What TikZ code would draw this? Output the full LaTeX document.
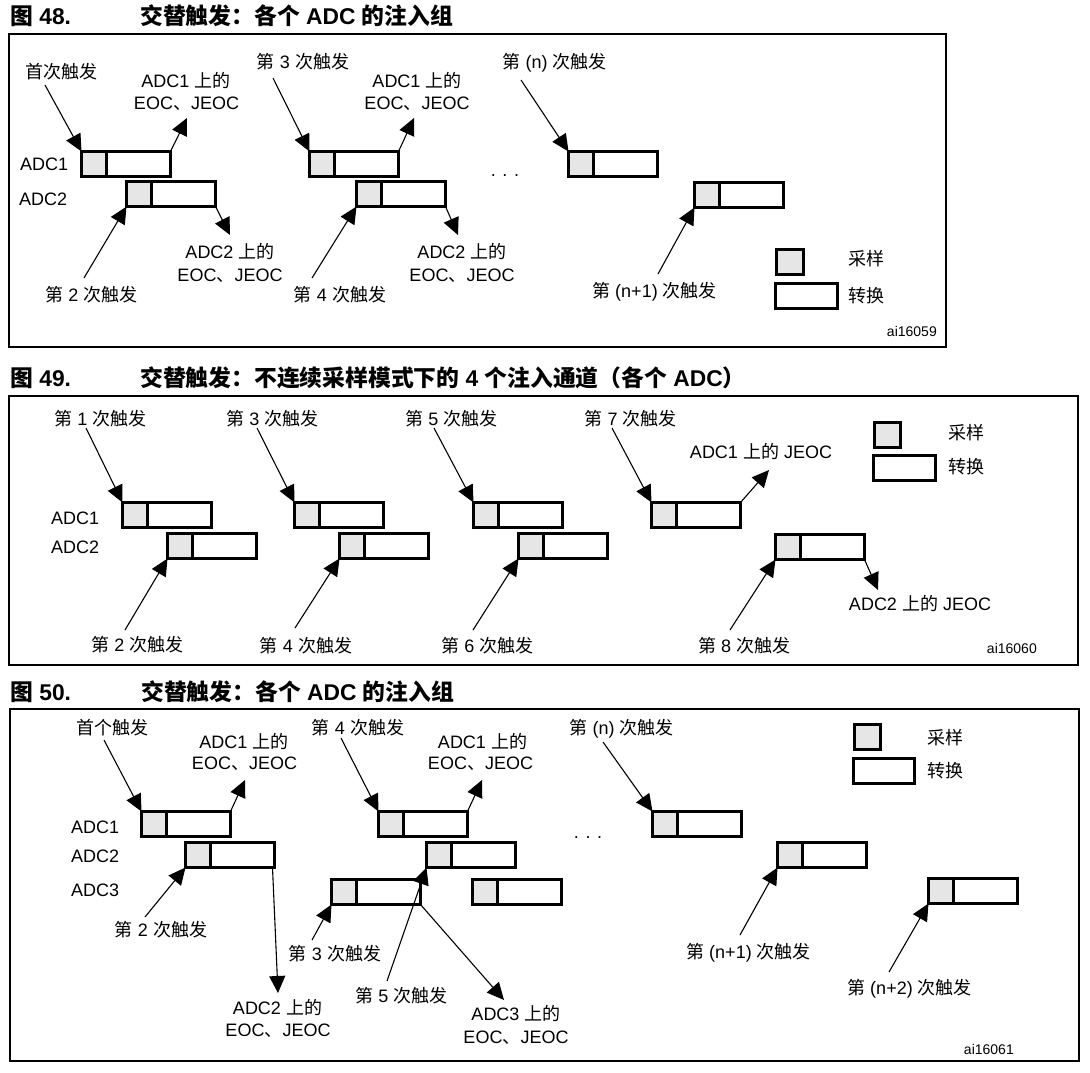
\documentclass[tikz,border=0pt]{standalone}
\usepackage{fontspec}
\setmainfont{Liberation Sans}
\newfontfamily\cjk{Noto Sans CJK SC}
\usetikzlibrary{arrows.meta}
\definecolor{smp}{RGB}{230,230,230}
\newcommand\zh[1]{{\cjk #1}}
\newcommand\adcbox[3]{%
  \node[samp] (#1s) at (#2,#3) {};
  \node[conv] (#1c) at (#1s.east) {};}
\begin{document}
\begin{tikzpicture}[x=1pt,y=-1pt,
  lbl/.style={inner sep=0pt, text height=13pt, text depth=0pt, font=\fontsize{18}{22}\selectfont},
  ttl/.style={inner sep=0pt, text height=16pt, text depth=0pt, anchor=west, font=\fontsize{22.8}{27}\selectfont\bfseries},
  tag/.style={inner sep=0pt, text height=10pt, text depth=0pt, anchor=east, font=\fontsize{14}{17}\selectfont},
  frm/.style={draw, line width=2pt},
  arr/.style={line width=1.1pt, -{Triangle[length=17pt,width=16pt]}},
  samp/.style={draw, line width=3pt, fill=smp, minimum width=25pt, minimum height=25pt, inner sep=0pt, outer sep=0pt, anchor=north west},
  conv/.style={draw, line width=3pt, fill=white, minimum width=64pt, minimum height=25pt, inner sep=0pt, outer sep=0pt, anchor=west}]
\useasboundingbox (0,0) rectangle (1090,1073);

% ================= Figure 48 =================
\node[ttl] (A-t0) at (10,17) {\zh{图} 48.};
\node[ttl] (A-t1) at (140,17) {\zh{交替触发：各个} ADC \zh{的注入组}};
\draw[frm] (9,34) rectangle (946,347);
\node[lbl, anchor=west] (A-l1) at (20,164) {ADC1};
\node[lbl, anchor=west] (A-l2) at (19,199) {ADC2};
\adcbox{A1}{81.5}{151.5}
\adcbox{A2}{126.5}{181.5}
\adcbox{A3}{309.5}{151.5}
\adcbox{A4}{356.5}{181.5}
\adcbox{A5}{568.5}{151.5}
\adcbox{A6}{694.5}{182.5}
\node[lbl] (A-tr1) at (61.5,72) {\zh{首次触发}};
\node[lbl] (A-e1a) at (186,81) {ADC1 \zh{上的}};
\node[lbl] (A-e1b) at (186.5,103) {EOC\zh{、}JEOC};
\node[lbl] (A-tr2) at (91.5,295) {\zh{第} 2 \zh{次触发}};
\node[lbl] (A-e2a) at (230,252) {ADC2 \zh{上的}};
\node[lbl] (A-e2b) at (230,275) {EOC\zh{、}JEOC};
\node[lbl] (A-tr3) at (303,62) {\zh{第} 3 \zh{次触发}};
\node[lbl] (A-e3a) at (417,81) {ADC1 \zh{上的}};
\node[lbl] (A-e3b) at (417,103) {EOC\zh{、}JEOC};
\node[lbl] (A-tr4) at (340,295) {\zh{第} 4 \zh{次触发}};
\node[lbl] (A-e4a) at (462,252) {ADC2 \zh{上的}};
\node[lbl] (A-e4b) at (462,275) {EOC\zh{、}JEOC};
\node[lbl] (A-dots) at (505,169.5) {. . .};
\node[lbl] (A-trn) at (554.5,62) {\zh{第} (n) \zh{次触发}};
\node[lbl] (A-trn1) at (654.5,291) {\zh{第} (n+1) \zh{次触发}};
\node[samp, minimum width=27pt] (A-legs) at (776.5,249.5) {};
\node[conv, anchor=north west, minimum width=62pt] (A-legc) at (775.5,283.5) {};
\node[lbl, anchor=west] (A-legst) at (848,259) {\zh{采样}};
\node[lbl, anchor=west] (A-legct) at (848,296) {\zh{转换}};
\node[tag] (A-id) at (937,331) {ai16059};
\coordinate (A-p1) at (45,85);   \draw[arr] (A-p1) -- (A1s.north west);
\coordinate (A-q1) at (187,118); \draw[arr] (A1c.north east) -- (A-q1);
\coordinate (A-p2) at (84,278);  \draw[arr] (A-p2) -- (A2s.south west);
\coordinate (A-q2) at (230,235); \draw[arr] (A2c.south east) -- (A-q2);
\coordinate (A-p3) at (273,78);  \draw[arr] (A-p3) -- (A3s.north west);
\coordinate (A-q3) at (414,118); \draw[arr] (A3c.north east) -- (A-q3);
\coordinate (A-p4) at (312,278); \draw[arr] (A-p4) -- (A4s.south west);
\coordinate (A-q4) at (458,235); \draw[arr] (A4c.south east) -- (A-q4);
\coordinate (A-p5) at (521,80);  \draw[arr] (A-p5) -- (A5s.north west);
\coordinate (A-p6) at (658,274); \draw[arr] (A-p6) -- (A6s.south west);

% ================= Figure 49 =================
\node[ttl] (B-t0) at (10,378) {\zh{图} 49.};
\node[ttl] (B-t1) at (140,378) {\zh{交替触发：不连续采样模式下的} 4 \zh{个注入通道（各个} ADC\zh{）}};
\draw[frm] (9,396) rectangle (1078,665);
\node[lbl, anchor=west] (B-l1) at (51,518) {ADC1};
\node[lbl, anchor=west] (B-l2) at (51,547) {ADC2};
\adcbox{B1}{122.5}{502.5}
\adcbox{B2}{167.5}{533.5}
\adcbox{B3}{294.5}{502.5}
\adcbox{B4}{339.5}{533.5}
\adcbox{B5}{473.5}{502.5}
\adcbox{B6}{518.5}{533.5}
\adcbox{B7}{651.5}{502.5}
\adcbox{B8}{775.5}{534.5}
\node[lbl] (B-tr1) at (100.5,419) {\zh{第} 1 \zh{次触发}};
\node[lbl] (B-tr2) at (137.5,645) {\zh{第} 2 \zh{次触发}};
\node[lbl] (B-tr3) at (272.5,419) {\zh{第} 3 \zh{次触发}};
\node[lbl] (B-tr4) at (306,646) {\zh{第} 4 \zh{次触发}};
\node[lbl] (B-tr5) at (451.5,419) {\zh{第} 5 \zh{次触发}};
\node[lbl] (B-tr6) at (487.5,646) {\zh{第} 6 \zh{次触发}};
\node[lbl] (B-tr7) at (630.5,419) {\zh{第} 7 \zh{次触发}};
\node[lbl] (B-tr8) at (744,646) {\zh{第} 8 \zh{次触发}};
\node[lbl] (B-e1) at (761,452) {ADC1 \zh{上的} JEOC};
\node[lbl] (B-e2) at (920,604) {ADC2 \zh{上的} JEOC};
\node[samp, minimum width=26pt] (B-legs) at (874.5,422.5) {};
\node[conv, anchor=north west, minimum width=62pt] (B-legc) at (873.5,455.5) {};
\node[lbl, anchor=west] (B-legst) at (948,433) {\zh{采样}};
\node[lbl, anchor=west] (B-legct) at (948,467) {\zh{转换}};
\node[tag] (B-id) at (1037,648) {ai16060};
\coordinate (B-p1) at (86,428);  \draw[arr] (B-p1) -- (B1s.north west);
\coordinate (B-p2) at (125,630); \draw[arr] (B-p2) -- (B2s.south west);
\coordinate (B-p3) at (257,428); \draw[arr] (B-p3) -- (B3s.north west);
\coordinate (B-p4) at (295,628); \draw[arr] (B-p4) -- (B4s.south west);
\coordinate (B-p5) at (434,428); \draw[arr] (B-p5) -- (B5s.north west);
\coordinate (B-p6) at (473,630); \draw[arr] (B-p6) -- (B6s.south west);
\coordinate (B-p7) at (612,428); \draw[arr] (B-p7) -- (B7s.north west);
\coordinate (B-p8) at (730,630); \draw[arr] (B-p8) -- (B8s.south west);
\coordinate (B-q7) at (769,470); \draw[arr] (B7c.north east) -- (B-q7);
\coordinate (B-q8) at (878,590); \draw[arr] (B8c.south east) -- (B-q8);

% ================= Figure 50 =================
\node[ttl] (C-t0) at (10,692) {\zh{图} 50.};
\node[ttl] (C-t1) at (141,692) {\zh{交替触发：各个} ADC \zh{的注入组}};
\draw[frm] (10,709) rectangle (1079,1061);
\node[lbl, anchor=west] (C-l1) at (71,827) {ADC1};
\node[lbl, anchor=west] (C-l2) at (71,856) {ADC2};
\node[lbl, anchor=west] (C-l3) at (71,890) {ADC3};
\adcbox{C1}{141.5}{811.5}
\adcbox{C2}{185.5}{842.5}
\adcbox{C3}{378.5}{811.5}
\adcbox{C4}{426.5}{842.5}
\adcbox{C5}{331.5}{879.5}
\adcbox{C6}{472.5}{879.5}
\adcbox{C7}{652.5}{811.5}
\adcbox{C8}{777.5}{842.5}
\adcbox{C9}{928.5}{878.5}
\node[lbl] (C-tr1) at (112.5,728) {\zh{首个触发}};
\node[lbl] (C-e1a) at (244,742) {ADC1 \zh{上的}};
\node[lbl] (C-e1b) at (244.5,763) {EOC\zh{、}JEOC};
\node[lbl] (C-tr2) at (161,930) {\zh{第} 2 \zh{次触发}};
\node[lbl] (C-e2a) at (277.5,1008) {ADC2 \zh{上的}};
\node[lbl] (C-e2b) at (278,1030) {EOC\zh{、}JEOC};
\node[lbl] (C-tr4) at (358,728) {\zh{第} 4 \zh{次触发}};
\node[lbl] (C-e3a) at (482.5,742) {ADC1 \zh{上的}};
\node[lbl] (C-e3b) at (480.5,763) {EOC\zh{、}JEOC};
\node[lbl] (C-tr3) at (335,954) {\zh{第} 3 \zh{次触发}};
\node[lbl] (C-tr5) at (401.5,996) {\zh{第} 5 \zh{次触发}};
\node[lbl] (C-e4a) at (516,1014) {ADC3 \zh{上的}};
\node[lbl] (C-e4b) at (516,1037) {EOC\zh{、}JEOC};
\node[lbl] (C-dots) at (588,832) {. . .};
\node[lbl] (C-trn) at (621.5,728) {\zh{第} (n) \zh{次触发}};
\node[lbl] (C-trn1) at (748.5,952) {\zh{第} (n+1) \zh{次触发}};
\node[lbl] (C-trn2) at (909.5,988) {\zh{第} (n+2) \zh{次触发}};
\node[samp, minimum width=26pt] (C-legs) at (854.5,724.5) {};
\node[conv, anchor=north west, minimum width=61pt] (C-legc) at (853.5,758.5) {};
\node[lbl, anchor=west] (C-legst) at (927,738) {\zh{采样}};
\node[lbl, anchor=west] (C-legct) at (927,771) {\zh{转换}};
\node[tag] (C-id) at (1014,1049) {ai16061};
\coordinate (C-p1) at (104,740);  \draw[arr] (C-p1) -- (C1s.north west);
\coordinate (C-q1) at (245,780);  \draw[arr] (C1c.north east) -- (C-q1);
\coordinate (C-p2) at (145,917);  \draw[arr] (C-p2) -- (C2s.south west);
\coordinate (C-q2) at (278,993);  \draw[arr] ([xshift=-2pt]C2c.south east) -- (C-q2);
\coordinate (C-p4) at (341,738);  \draw[arr] (C-p4) -- (C3s.north west);
\coordinate (C-q3) at (482,780);  \draw[arr] (C3c.north east) -- (C-q3);
\coordinate (C-p3) at (312,940);  \draw[arr] (C-p3) -- (C5s.south west);
\coordinate (C-p5) at (387,981);  \draw[arr] (C-p5) -- (C4s.south west);
\coordinate (C-q5) at (504,1000); \draw[arr] (C5c.south east) -- (C-q5);
\coordinate (C-pn) at (603,742);  \draw[arr] (C-pn) -- (C7s.north west);
\coordinate (C-pn1) at (740,935); \draw[arr] (C-pn1) -- (C8s.south west);
\coordinate (C-pn2) at (889,972); \draw[arr] (C-pn2) -- (C9s.south west);
\end{tikzpicture}
\end{document}
